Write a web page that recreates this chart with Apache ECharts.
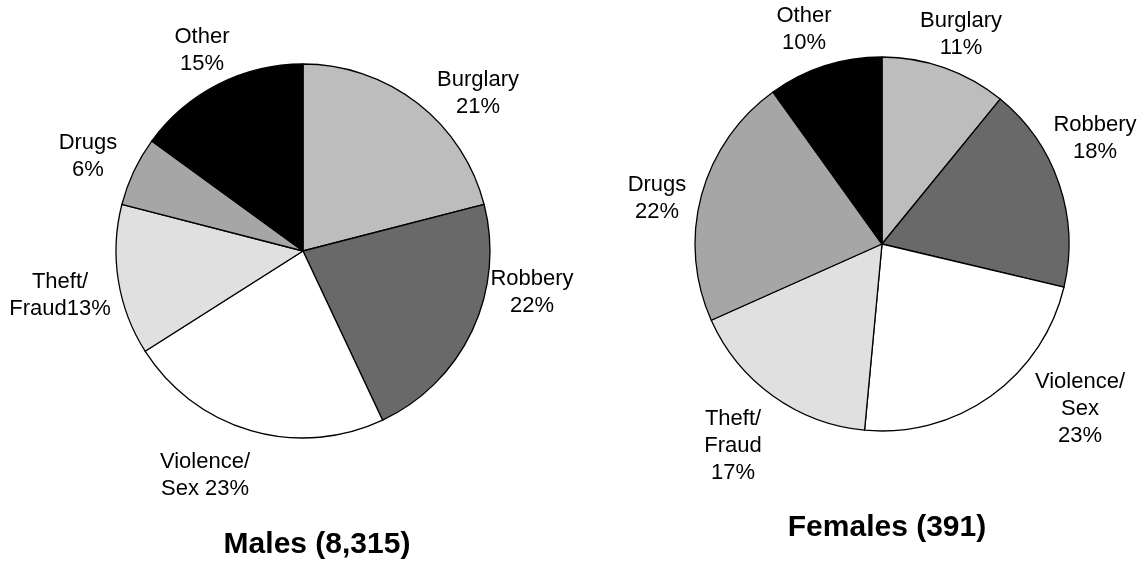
<!DOCTYPE html>
<html>
<head>
<meta charset="utf-8" />
<title>Offence type by sex</title>
<script src="https://cdn.jsdelivr.net/npm/echarts@6/dist/echarts.min.js"></script>
<style>
  html, body { margin: 0; padding: 0; background: #fff; }
  #chart { width: 1138px; height: 568px; }
</style>
</head>
<body>
<div id="chart"></div>
<script>
// data
var categories = ['Burglary', 'Robbery', 'Violence/Sex', 'Theft/Fraud', 'Drugs', 'Other'];
var maleValues = [21, 22, 23, 13, 6, 15];
var femaleValues = [11, 18, 23, 17, 22, 10];
var maleTitle = 'Males (8,315)';
var femaleTitle = 'Females (391)';
// how each label is broken into lines before the percentage
var maleLabelText = ['Burglary\n', 'Robbery\n', 'Violence/\nSex ', 'Theft/\nFraud', 'Drugs\n', 'Other\n'];
var femaleLabelText = ['Burglary\n', 'Robbery\n', 'Violence/\nSex\n', 'Theft/\nFraud\n', 'Drugs\n', 'Other\n'];

// styling
var sliceColors = ['#bdbdbd', '#696969', '#ffffff', '#e0e0e0', '#a6a6a6', '#000000'];
var pieRadius = 187;
var maleCenter = [303, 251];
var femaleCenter = [882, 244];
// label positions relative to each pie centre (hand placed in the original)
var maleLabelOffset = [[175, -158], [229, 41], [-98, 224], [-243, 44], [-215, -95], [-101, -201]];
var femaleLabelOffset = [[79, -210], [213, -106], [198, 165], [-149, 202], [-225, -46], [-78, -215]];

function buildSeries(values, labelText, center, offsets) {
    return {
        type: 'pie',
        radius: pieRadius,
        center: center,
        startAngle: 90,
        clockwise: true,
        avoidLabelOverlap: false,
        silent: true,
        itemStyle: { borderColor: '#000', borderWidth: 1.3 },
        label: {
            show: true,
            position: 'outside',
            color: '#000',
            fontFamily: 'Liberation Sans, Arial, sans-serif',
            fontSize: 22,
            lineHeight: 27,
            formatter: function (p) { return labelText[p.dataIndex] + p.value + '%'; }
        },
        labelLine: { show: false },
        labelLayout: function (p) {
            var off = offsets[p.dataIndex];
            return { x: center[0] + off[0], y: center[1] + off[1], align: 'center', verticalAlign: 'middle' };
        },
        data: categories.map(function (c, i) {
            return { name: c, value: values[i], itemStyle: { color: sliceColors[i] } };
        })
    };
}

var chart = echarts.init(document.getElementById('chart'), null, { renderer: 'canvas' });
chart.setOption({
    animation: false,
    backgroundColor: '#fff',
    title: [
        { text: maleTitle, left: 312, top: 525, textAlign: 'center',
          textStyle: { fontFamily: 'Liberation Sans, Arial, sans-serif', fontSize: 30, fontWeight: 'bold', color: '#000' } },
        { text: femaleTitle, left: 882, top: 508, textAlign: 'center',
          textStyle: { fontFamily: 'Liberation Sans, Arial, sans-serif', fontSize: 30, fontWeight: 'bold', color: '#000' } }
    ],
    series: [
        buildSeries(maleValues, maleLabelText, maleCenter, maleLabelOffset),
        buildSeries(femaleValues, femaleLabelText, femaleCenter, femaleLabelOffset)
    ]
});
</script>
</body>
</html>
